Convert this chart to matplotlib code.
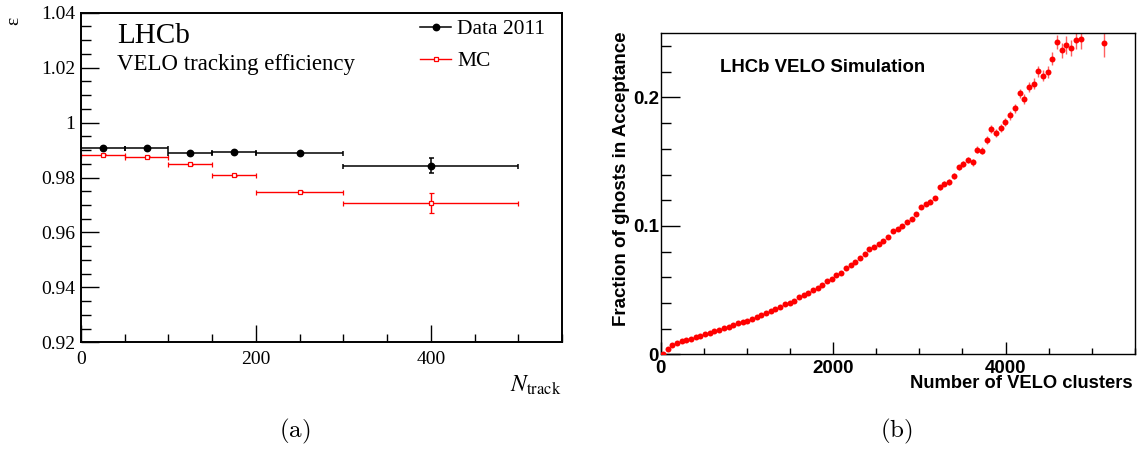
import numpy as np
import matplotlib
matplotlib.use("Agg")
import matplotlib.pyplot as plt
from matplotlib.ticker import MultipleLocator, FuncFormatter
from matplotlib.lines import Line2D

# ---------------- data: panel (a) ----------------
bin_lo = [0, 50, 100, 150, 200, 300]
bin_hi = [50, 100, 150, 200, 300, 500]
data_eff = [0.9906, 0.9909, 0.9889, 0.9892, 0.9888, 0.9843]
data_err = [0.0003, 0.0003, 0.0003, 0.0003, 0.0005, 0.0027]
mc_eff = [0.9883, 0.9876, 0.9848, 0.9808, 0.9749, 0.9706]
mc_err = [0.0002, 0.0002, 0.0002, 0.0002, 0.0003, 0.0037]

# ---------------- data: panel (b) ----------------
bin_width = 54.4
bin_index = list(range(90)) + [94]
ghost_frac = [
    0.0005, 0.0043, 0.0075, 0.0088, 0.0100, 0.0112, 0.0123, 0.0134, 0.0146, 0.0158,
    0.0169, 0.0180, 0.0190, 0.0201, 0.0214, 0.0227, 0.0240, 0.0252, 0.0263, 0.0278,
    0.0291, 0.0306, 0.0321, 0.0337, 0.0351, 0.0366, 0.0390, 0.0403, 0.0413, 0.0444,
    0.0462, 0.0481, 0.0501, 0.0519, 0.0543, 0.0571, 0.0590, 0.0616, 0.0634, 0.0670,
    0.0694, 0.0719, 0.0748, 0.0784, 0.0818, 0.0839, 0.0862, 0.0881, 0.0917, 0.0964,
    0.0979, 0.1000, 0.1034, 0.1055, 0.1096, 0.1145, 0.1169, 0.1190, 0.1216, 0.1301,
    0.1327, 0.1343, 0.1387, 0.1455, 0.1483, 0.1514, 0.1496, 0.1595, 0.1587, 0.1668,
    0.1752, 0.1725, 0.1761, 0.1808, 0.1860, 0.1917, 0.2034, 0.1990, 0.2083, 0.2109,
    0.2205, 0.2171, 0.2197, 0.2301, 0.2431, 0.2369, 0.2410, 0.2384, 0.2447, 0.2452,
    0.2423,
]
ghost_err = [
    0.0002, 0.0003, 0.0003, 0.0003, 0.0003, 0.0003, 0.0003, 0.0003, 0.0003, 0.0003,
    0.0003, 0.0003, 0.0003, 0.0004, 0.0004, 0.0004, 0.0004, 0.0004, 0.0004, 0.0004,
    0.0005, 0.0005, 0.0005, 0.0005, 0.0005, 0.0005, 0.0006, 0.0006, 0.0006, 0.0006,
    0.0006, 0.0007, 0.0007, 0.0007, 0.0007, 0.0008, 0.0008, 0.0008, 0.0008, 0.0009,
    0.0009, 0.0009, 0.0010, 0.0010, 0.0010, 0.0011, 0.0011, 0.0012, 0.0012, 0.0013,
    0.0013, 0.0014, 0.0014, 0.0015, 0.0015, 0.0016, 0.0017, 0.0017, 0.0018, 0.0019,
    0.0020, 0.0021, 0.0022, 0.0023, 0.0024, 0.0025, 0.0026, 0.0027, 0.0028, 0.0029,
    0.0030, 0.0031, 0.0032, 0.0033, 0.0034, 0.0035, 0.0036, 0.0038, 0.0040, 0.0042,
    0.0044, 0.0046, 0.0048, 0.0050, 0.0055, 0.0058, 0.0070, 0.0062, 0.0070, 0.0075,
    0.0105,
]

W, H = 1137, 449
fig = plt.figure(figsize=(W / 100, H / 100), dpi=100)

def fx(px):
    return px / W

def fy(py):
    return 1 - py / H

serif = "Liberation Serif"
sans = "Liberation Sans"

# ---------------- panel (a) ----------------
A_L, A_R, A_T, A_B = 81, 562, 12.7, 342.3
axa = fig.add_axes([fx(A_L), fy(A_B), (A_R - A_L) / W, (A_B - A_T) / H])
lo = np.array(bin_lo, float)
hi = np.array(bin_hi, float)
xc = 0.5 * (lo + hi)
xe = 0.5 * (hi - lo)
axa.errorbar(xc, data_eff, xerr=xe, yerr=data_err, fmt="o", color="black",
             ms=4.6, lw=1.1, capsize=1.8, capthick=1.1, zorder=3)
axa.errorbar(xc, mc_eff, xerr=xe, yerr=mc_err, fmt="s", color="red", mfc="white",
             mec="red", ms=2.8, mew=0.9, lw=1.0, capsize=1.8, capthick=1.0, zorder=2)
axa.set_xlim(0, 550)
axa.set_ylim(0.92, 1.04)
axa.xaxis.set_major_locator(MultipleLocator(200))
axa.xaxis.set_minor_locator(MultipleLocator(50))
axa.yaxis.set_major_locator(MultipleLocator(0.02))
axa.yaxis.set_minor_locator(MultipleLocator(0.005))
fmt = FuncFormatter(lambda v, p: ("%.2f" % v).rstrip("0").rstrip(".")
                    if abs(v - round(v)) > 1e-9 else "%d" % round(v))
axa.xaxis.set_major_formatter(fmt)
axa.yaxis.set_major_formatter(fmt)
axa.tick_params(axis="both", which="both", direction="in", top=False, right=False,
                labelsize=14, width=1.0)
axa.tick_params(axis="y", which="major", length=13, pad=4)
axa.tick_params(axis="y", which="minor", length=7)
axa.tick_params(axis="x", which="major", length=12, pad=6)
axa.tick_params(axis="x", which="minor", length=6)
for lab in axa.get_xticklabels() + axa.get_yticklabels():
    lab.set_family(serif)
for s in axa.spines.values():
    s.set_linewidth(1.4)

fig.text(fx(117), fy(43), "LHCb", family=serif, fontsize=21, ha="left", va="baseline")
fig.text(fx(117), fy(70), "VELO tracking efficiency", family=serif, fontsize=16.5,
         ha="left", va="baseline")
h_data = Line2D([], [], color="black", marker="o", ms=4.6, lw=1.1)
h_mc = Line2D([], [], color="red", marker="s", mfc="white", mec="red", ms=2.8,
              mew=0.9, lw=1.0)
axa.legend([h_data, h_mc], ["Data 2011", "MC"], loc="upper left",
           bbox_to_anchor=(fx(420), fy(19)), bbox_transform=fig.transFigure,
           frameon=False, prop={"family": serif, "size": 15.5}, handlelength=1.45,
           handletextpad=0.28, labelspacing=0.56, borderpad=0, borderaxespad=0)
fig.text(fx(13.3), fy(20.7), "ε", family=serif, fontsize=14, rotation=90,
         ha="center", va="center")
fig.text(fx(561), fy(391.5), r"$N_{\rm track}$", fontsize=17, ha="right",
         va="baseline", math_fontfamily="stix")
fig.text(fx(295), fy(437), r"$\mathrm{(a)}$", fontsize=18, ha="center",
         va="baseline", math_fontfamily="cm")

# ---------------- panel (b) ----------------
B_L, B_R, B_T, B_B = 660.5, 1135, 33.3, 354.3
axb = fig.add_axes([fx(B_L), fy(B_B), (B_R - B_L) / W, (B_B - B_T) / H])
xb = (np.array(bin_index) + 0.5) * bin_width
axb.errorbar(xb, ghost_frac, yerr=ghost_err, fmt="none", ecolor="#ff6060",
             elinewidth=1.0, capsize=0, zorder=2)
axb.plot(xb, ghost_frac, "o", color="#ff0000", ms=4.3, mew=0, zorder=3)
axb.set_xlim(0, 5500)
axb.set_ylim(0, 0.25)
axb.xaxis.set_major_locator(MultipleLocator(2000))
axb.xaxis.set_minor_locator(MultipleLocator(500))
axb.yaxis.set_major_locator(MultipleLocator(0.1))
axb.yaxis.set_minor_locator(MultipleLocator(0.02))
axb.xaxis.set_major_formatter(FuncFormatter(lambda v, p: "%d" % round(v)))
axb.yaxis.set_major_formatter(FuncFormatter(lambda v, p: "%g" % round(v, 3)))
axb.tick_params(axis="both", which="both", direction="in", top=False, right=False,
                labelsize=13.5, width=1.0)
axb.tick_params(axis="y", which="major", length=14, pad=1)
axb.tick_params(axis="y", which="minor", length=7)
axb.tick_params(axis="x", which="major", length=9, pad=4)
axb.tick_params(axis="x", which="minor", length=4)
for lab in axb.get_xticklabels() + axb.get_yticklabels():
    lab.set_family(sans)
    lab.set_fontweight("bold")
for s in axb.spines.values():
    s.set_linewidth(1.0)

fig.text(fx(720), fy(67), "LHCb VELO Simulation", family=sans, fontweight="bold",
         fontsize=13.4, ha="left", va="center")
fig.text(fx(621.5), fy(31), "Fraction of ghosts in Acceptance", family=sans,
         fontweight="bold", fontsize=13.5, rotation=90, ha="center", va="top")
fig.text(fx(1133), fy(388), "Number of VELO clusters", family=sans,
         fontweight="bold", fontsize=13.25, ha="right", va="baseline")
fig.text(fx(896), fy(437), r"$\mathrm{(b)}$", fontsize=18, ha="center",
         va="baseline", math_fontfamily="cm")

fig.savefig("out.png", dpi=100)
